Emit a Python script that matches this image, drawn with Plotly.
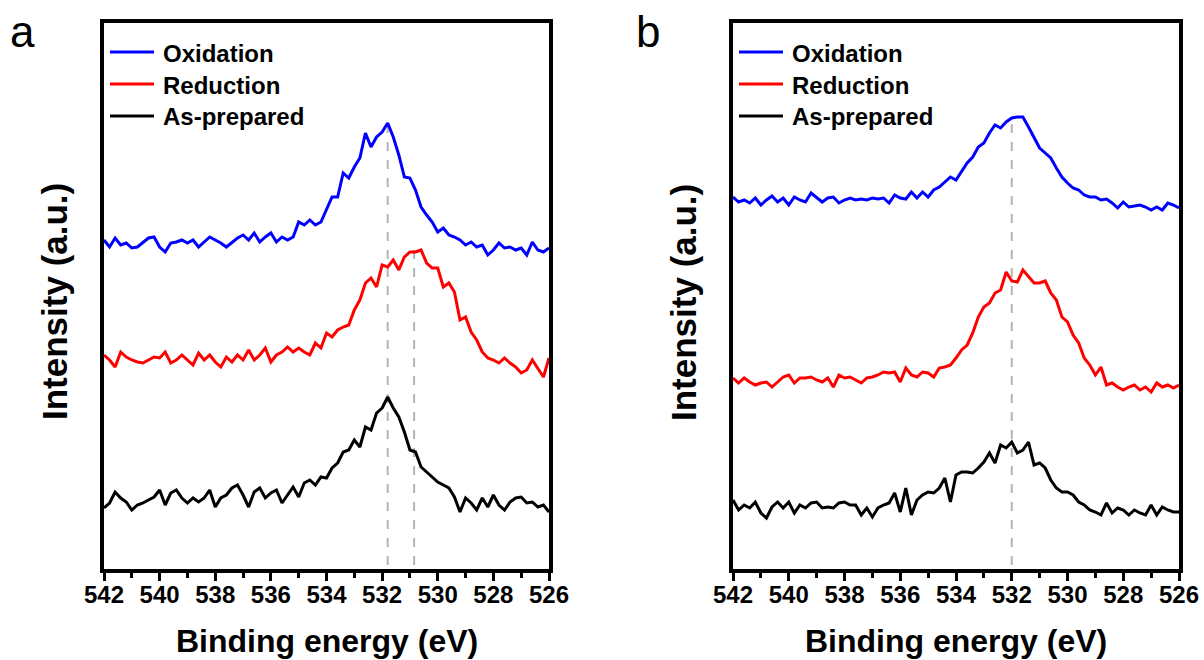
import plotly.graph_objects as go

# Binding energy grid (eV), 542 -> 526 in 0.2 eV steps
energy = [round(542 - 0.2 * i, 1) for i in range(81)]

# Panel a intensities (a.u.), offset-stacked as in the figure
ox_a = [329,322,331,324,326,321,322,327,331,332,
        322,317,326,327,329,326,329,322,327,332,
        329,326,322,327,331,334,329,336,327,332,
        336,327,332,329,332,347,344,349,344,347,
        359,372,372,396,391,402,411,436,422,432,
        437,446,432,414,392,391,379,362,354,347,
        337,341,334,332,329,324,327,322,324,314,
        319,326,321,322,319,321,314,327,319,317,321]
red_a = [214,209,202,217,212,209,207,206,209,212,
         211,217,206,209,214,209,204,216,209,214,
         207,202,212,207,214,209,219,209,214,221,
         207,214,217,222,217,221,217,214,226,221,
         236,232,239,242,244,259,269,286,291,282,
         304,302,309,299,312,317,317,319,306,301,
         301,282,286,277,249,252,237,229,217,211,
         209,206,211,206,202,196,199,209,201,192,211]
asp_a = [61,66,77,71,67,59,64,66,69,72,
         79,64,76,79,71,66,71,67,71,79,
         62,71,74,81,84,74,62,77,81,71,
         76,79,66,74,82,72,86,89,84,92,
         91,101,106,117,119,129,122,142,139,156,
         161,172,161,152,137,119,117,102,97,92,
         87,84,81,72,57,71,66,59,71,62,
         74,64,59,67,71,72,66,67,62,64,57]

# Panel b intensities (a.u.)
ox_b = [372,367,369,366,371,364,369,373,367,371,
        364,372,369,367,376,371,367,371,372,366,
        369,371,369,370,369,371,370,371,366,374,
        371,370,377,371,377,372,379,382,387,392,
        389,397,406,412,422,426,436,444,441,447,
        451,452,452,442,432,421,416,411,401,392,
        386,381,379,374,372,372,369,370,366,361,
        367,362,363,364,362,359,362,359,366,364,361]
red_b = [191,186,191,187,184,186,187,182,187,192,
         194,186,191,191,192,189,187,191,182,194,
         191,192,189,186,191,192,194,197,196,197,
         187,201,194,192,197,196,192,201,202,204,
         211,219,224,236,252,262,266,276,279,297,
         288,287,299,292,286,286,288,276,269,252,
         247,234,226,211,204,194,202,184,186,182,
         179,182,184,179,182,177,186,182,184,181,184]
asp_b = [69,59,64,61,67,56,51,62,67,61,
         67,56,64,61,66,67,61,62,61,66,
         67,64,64,54,61,52,61,64,66,76,
         57,81,54,69,74,77,76,81,91,67,
         94,97,97,96,101,107,116,106,124,121,
         127,116,119,127,104,106,101,89,81,77,
         77,74,67,64,59,57,54,66,56,61,
         59,54,59,56,54,64,54,62,59,57,57]

series_names = ["Oxidation", "Reduction", "As-prepared"]
series_colors = ["#0000ff", "#ff0000", "#000000"]

# dashed guide lines: (energy, top intensity)
guides_a = [(531.8, 446), (530.85, 321)]
guides_b = [(532.0, 451)]

x_ticks = [542, 540, 538, 536, 534, 532, 530, 528, 526]
x_minor = [541, 539, 537, 535, 533, 531, 529, 527]

W, H = 1204, 660
FONT = "Liberation Sans"


def px_x(p):
    return p / W


def px_y(p):
    return 1 - p / H


fig = go.Figure()
for data, name, col in zip([ox_a, red_a, asp_a], series_names, series_colors):
    fig.add_trace(go.Scatter(x=energy, y=data, mode="lines", name=name,
                             line=dict(color=col, width=3), xaxis="x", yaxis="y",
                             showlegend=False))
for data, name, col in zip([ox_b, red_b, asp_b], series_names, series_colors):
    fig.add_trace(go.Scatter(x=energy, y=data, mode="lines", name=name,
                             line=dict(color=col, width=3), xaxis="x2", yaxis="y2",
                             showlegend=False))

dom_a = [px_x(104), px_x(549)]
dom_b = [px_x(733), px_x(1179)]
dom_y = [px_y(569), px_y(23)]

xcommon = dict(range=[542, 526], tickvals=x_ticks, ticks="outside", ticklen=8, tickwidth=3,
               tickcolor="black", showline=True, linewidth=3.5, linecolor="black", mirror=True,
               showgrid=False, zeroline=False, automargin=False, ticklabelstandoff=-7,
               minor=dict(ticks="outside", ticklen=5, tickwidth=3, tickcolor="black",
                          tickvals=x_minor, showgrid=False),
               tickfont=dict(family=FONT, size=24, color="black", weight="bold"))
ycommon = dict(range=[0, 546], showticklabels=False, ticks="", showline=True, linewidth=3.5,
               linecolor="black", mirror=True, showgrid=False, zeroline=False, automargin=False)

fig.update_layout(
    template="none",
    width=W, height=H, margin=dict(l=0, r=0, t=0, b=0, pad=0, autoexpand=False),
    paper_bgcolor="white", plot_bgcolor="white",
    xaxis=dict(domain=dom_a, anchor="y", **xcommon),
    yaxis=dict(domain=dom_y, anchor="x", **ycommon),
    xaxis2=dict(domain=dom_b, anchor="y2", **xcommon),
    yaxis2=dict(domain=dom_y, anchor="x2", **ycommon),
    showlegend=False,
)

shapes = []
for e, top in guides_a:
    shapes.append(dict(type="line", xref="x", yref="y", x0=e, x1=e, y0=4, y1=top,
                       line=dict(color="#b4b4b4", width=2, dash="dash"), layer="below"))
for e, top in guides_b:
    shapes.append(dict(type="line", xref="x2", yref="y2", x0=e, x1=e, y0=4, y1=top,
                       line=dict(color="#b4b4b4", width=2, dash="dash"), layer="below"))

ann = []
# legends (one per panel)
legend_rows = [52, 84, 116]
for x0 in [110, 739]:
    for name, col, ry in zip(series_names, series_colors, legend_rows):
        shapes.append(dict(type="line", xref="paper", yref="paper",
                           x0=px_x(x0), x1=px_x(x0 + 44), y0=px_y(ry), y1=px_y(ry),
                           line=dict(color=col, width=3)))
        ann.append(dict(text=name, xref="paper", yref="paper", x=px_x(x0 + 51), y=px_y(ry + 1),
                        xanchor="left", yanchor="middle", showarrow=False,
                        font=dict(family=FONT, size=24, color="black", weight="bold")))
fig.update_layout(shapes=shapes)

for cx in [(104 + 549) / 2, (733 + 1179) / 2]:
    ann.append(dict(text="Binding energy (eV)", xref="paper", yref="paper",
                    x=px_x(cx), y=px_y(641), xanchor="center", yanchor="middle", showarrow=False,
                    font=dict(family=FONT, size=32, color="black", weight="bold")))
for cx in [55, 684]:
    ann.append(dict(text="Intensity (a.u.)", xref="paper", yref="paper", textangle=-90,
                    x=px_x(cx), y=px_y(302), xanchor="center", yanchor="middle", showarrow=False,
                    font=dict(family=FONT, size=35, color="black", weight="bold")))
for lbl, cx in [("a", 22), ("b", 648)]:
    ann.append(dict(text=lbl, xref="paper", yref="paper", x=px_x(cx), y=px_y(32),
                    xanchor="center", yanchor="middle", showarrow=False,
                    font=dict(family=FONT, size=44, color="black")))
fig.update_layout(annotations=ann)

fig.write_html("out.html")
